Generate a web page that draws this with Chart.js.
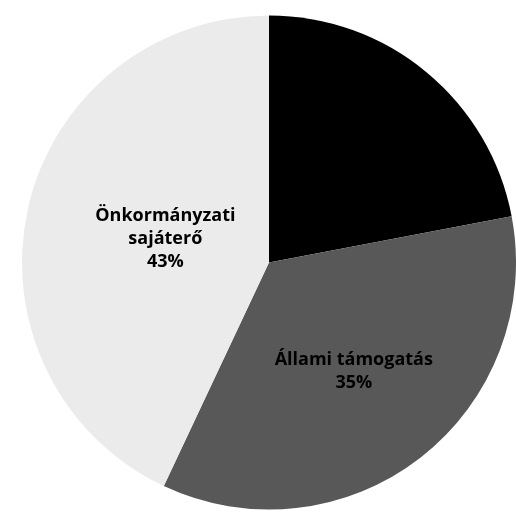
<!DOCTYPE html>
<html>
<head>
<meta charset="utf-8">
<script src="https://cdn.jsdelivr.net/npm/chart.js@4/dist/chart.umd.min.js"></script>
<style>
  html, body { margin: 0; padding: 0; background: #fff; }
  #wrap { width: 516px; height: 515px; }
</style>
</head>
<body>
<div id="wrap"><canvas id="pieChart"></canvas></div>
<script>
// adatok
const categories = ['Egyéb forrás', 'Állami támogatás', 'Önkormányzati sajáterő'];
const values = [22, 35, 43];
const labelLines = [null, ['Állami támogatás', '35%'], ['Önkormányzati', 'sajáterő', '43%']];
const sliceColors = ['#000000', '#585858', '#ebebeb'];
// felirat távolsága a középponttól (a sugár arányában)
const labelRadius = [0.5, 0.56, 0.43];

// feliratok a szeletekre (nincs datalabels plugin)
const sliceLabels = {
    id: 'sliceLabels',
    afterDatasetsDraw(chart) {
        const ctx = chart.ctx;
        const meta = chart.getDatasetMeta(0);
        ctx.save();
        ctx.font = 'bold 18px "Open Sans", sans-serif';
        ctx.fillStyle = '#000';
        ctx.textAlign = 'center';
        ctx.textBaseline = 'middle';
        meta.data.forEach((arc, i) => {
            const lines = labelLines[i];
            if (!lines) return;
            const p = arc.getProps(['x', 'y', 'startAngle', 'endAngle', 'outerRadius']);
            const mid = (p.startAngle + p.endAngle) / 2;
            const r = p.outerRadius * labelRadius[i];
            const cx = p.x + Math.cos(mid) * r;
            const cy = p.y + Math.sin(mid) * r;
            const lh = 23;
            const startY = cy - (lines.length - 1) * lh / 2;
            lines.forEach((t, j) => ctx.fillText(t, cx, startY + j * lh));
        });
        ctx.restore();
    }
};

const ctx = document.getElementById('pieChart').getContext('2d');
new Chart(ctx, {
    type: 'pie',
    data: {
        labels: categories,
        datasets: [{
            data: values,
            backgroundColor: sliceColors,
            borderWidth: 0
        }]
    },
    options: {
        responsive: true,
        maintainAspectRatio: false,
        animation: false,
        layout: { padding: { left: 22, right: 0, top: 15, bottom: 5 } },
        plugins: {
            legend: { display: false },
            tooltip: { enabled: false }
        }
    },
    plugins: [sliceLabels]
});
</script>
</body>
</html>
